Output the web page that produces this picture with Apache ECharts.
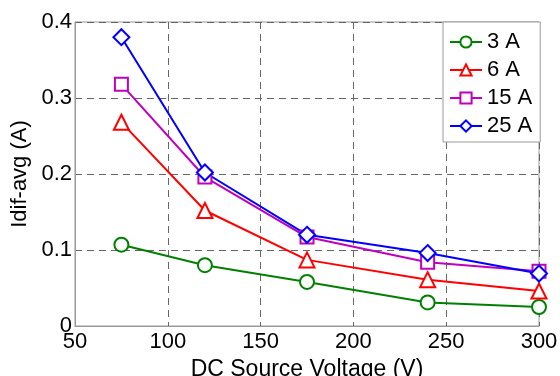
<!DOCTYPE html>
<html>
<head>
<meta charset="utf-8">
<script src="https://cdn.jsdelivr.net/npm/echarts@6/dist/echarts.min.js"></script>
<style>
  html, body { margin: 0; padding: 0; background: #fff; }
  #chart { width: 560px; height: 376px; }
</style>
</head>
<body>
<div id="chart"></div>
<script>
// source voltage (V)
const voltage = [75, 120, 175, 240, 300];
// Idif-avg (A) for each load current
const i3A = [0.107, 0.080, 0.058, 0.031, 0.025];
const i6A = [0.268, 0.152, 0.087, 0.061, 0.046];
const i15A = [0.318, 0.196, 0.117, 0.084, 0.072];
const i25A = [0.380, 0.202, 0.120, 0.096, 0.069];
const seriesNames = ['3 A', '6 A', '15 A', '25 A'];

const font = 'Liberation Sans, Arial, sans-serif';

function pairs(ys) {
  return voltage.map((x, i) => [x, ys[i]]);
}

function lineSeries(name, ys, color, symbol, size) {
  return {
    name: name,
    type: 'line',
    data: pairs(ys),
    symbol: symbol,
    symbolSize: size,
    showAllSymbol: true,
    lineStyle: { color: color, width: 2 },
    itemStyle: { color: '#fff', borderColor: color, borderWidth: 2 },
    emphasis: { disabled: true },
    z: 3
  };
}

const chart = echarts.init(document.getElementById('chart'));
chart.setOption({
  animation: false,
  backgroundColor: '#fff',
  grid: {
    left: 75, top: 22, right: 21, bottom: 50,
    outerBoundsMode: 'none',
    containLabel: false,
    show: true, borderColor: '#999', borderWidth: 1, backgroundColor: '#fff'
  },
  legend: {
    data: seriesNames,
    orient: 'vertical',
    left: 443, top: 22,
    padding: [9, 8, 5, 6],
    itemWidth: 32, itemHeight: 14, itemGap: 6,
    backgroundColor: '#fff',
    borderColor: '#999', borderWidth: 1,
    textStyle: { fontFamily: font, fontSize: 22, color: '#000', lineHeight: 22 }
  },
  xAxis: {
    type: 'value', min: 50, max: 300, interval: 50,
    name: 'DC Source Voltage (V)', nameLocation: 'middle', nameGap: 25,
    nameTextStyle: { fontFamily: font, fontSize: 23, color: '#000' },
    axisLine: { show: true, lineStyle: { color: '#999', width: 1 } },
    axisTick: { show: false },
    axisLabel: { fontFamily: font, fontSize: 22, color: '#000', margin: 5 },
    splitLine: { show: true, lineStyle: { color: '#666', type: [7, 5], width: 1 } }
  },
  yAxis: {
    type: 'value', min: 0, max: 0.4, interval: 0.1,
    name: 'Idif-avg (A)', nameLocation: 'middle', nameGap: 41,
    nameTextStyle: { fontFamily: font, fontSize: 22, color: '#000' },
    axisLine: { show: true, lineStyle: { color: '#999', width: 1 } },
    axisTick: { show: false },
    axisLabel: { fontFamily: font, fontSize: 22, color: '#000', margin: 3 },
    splitLine: { show: true, lineStyle: { color: '#666', type: [7, 5], width: 1 } }
  },
  series: [
    lineSeries(seriesNames[0], i3A, '#008000', 'circle', 14),
    lineSeries(seriesNames[1], i6A, '#ff0000', 'triangle', 15),
    lineSeries(seriesNames[2], i15A, '#bf00bf', 'rect', 13),
    lineSeries(seriesNames[3], i25A, '#0000ff', 'diamond', 16)
  ]
});
</script>
</body>
</html>
